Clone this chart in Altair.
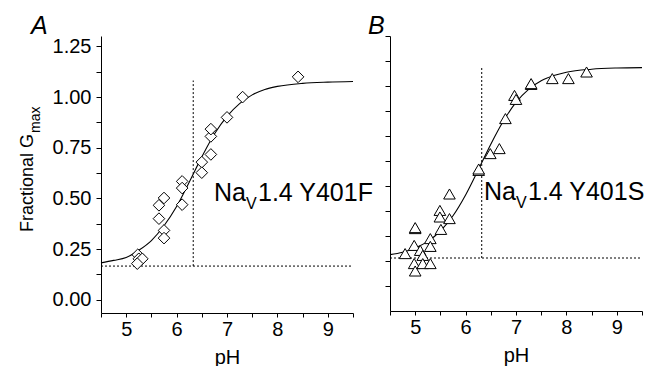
import altair as alt
import pandas as pd

FONT = "Liberation Sans"

# ---------------- data ----------------
ph_domain = [4.5, 9.5]
x_ticks = [4.5, 5.0, 5.5, 6.0, 6.5, 7.0, 7.5, 8.0, 8.5, 9.0, 9.5]
y_ticks = [0, 0.125, 0.25, 0.375, 0.5, 0.625, 0.75, 0.875, 1.0, 1.125, 1.25]

# Panel A: NaV1.4 Y401F (diamonds)
a_ph = [5.23, 5.25, 5.32, 5.22, 5.75, 5.75, 5.65, 5.65, 5.75, 6.11, 6.11, 6.11,
        6.50, 6.50, 6.68, 6.68, 6.68, 7.00, 7.31, 8.41]
a_g = [0.222, 0.202, 0.202, 0.178, 0.342, 0.304, 0.400, 0.466, 0.502, 0.584, 0.551, 0.469,
       0.679, 0.627, 0.717, 0.806, 0.842, 0.900, 1.000, 1.100]
a_fit_ph = [4.5, 4.75, 5.0, 5.25, 5.5, 5.75, 6.0, 6.25, 6.5, 6.75, 7.0, 7.25, 7.5, 7.75,
            8.0, 8.5, 9.0, 9.5]
a_fit_g = [0.182, 0.194, 0.208, 0.244, 0.292, 0.365, 0.460, 0.580, 0.705, 0.818, 0.905,
           0.968, 1.011, 1.038, 1.053, 1.068, 1.074, 1.077]
a_base, a_top, a_ph50 = 0.166, 1.082, 6.33

# Panel B: NaV1.4 Y401S (triangles)
b_ph = [4.80, 5.00, 5.00, 4.98, 4.98, 5.00, 5.10, 5.15, 5.15, 5.30, 5.30, 5.30, 5.49, 5.49,
        5.51, 5.68, 5.68, 6.26, 6.26, 6.49, 6.67, 6.79, 6.97, 7.00, 7.30, 7.30, 7.72, 8.04, 8.40]
b_g = [0.162, 0.287, 0.292, 0.203, 0.112, 0.075, 0.178, 0.153, 0.112, 0.237, 0.198, 0.112,
       0.378, 0.345, 0.283, 0.460, 0.337, 0.578, 0.585, 0.662, 0.687, 0.837, 0.953, 0.933,
       1.008, 1.012, 1.037, 1.037, 1.070]
b_fit_ph = a_fit_ph
b_fit_g = [0.157, 0.169, 0.190, 0.223, 0.275, 0.351, 0.455, 0.580, 0.709, 0.825, 0.918,
           0.983, 1.026, 1.052, 1.069, 1.084, 1.090, 1.092]
b_base, b_top, b_ph50 = 0.140, 1.0915, 6.32


def panel(ph, g, fit_ph, fit_g, base, top, ph50, shape, ydom, height,
          show_ylabels, letter, letter_x, label, label_x, label_y):
    W = 252
    xs = alt.Scale(domain=ph_domain, nice=False, zero=False)
    ys = alt.Scale(domain=ydom, nice=False, zero=False)
    xaxis = alt.Axis(values=x_ticks,
                     labelExpr="datum.value % 1 === 0 ? format(datum.value, 'd') : ''",
                     tickSize=4, labelPadding=2, grid=False, title="pH",
                     titlePadding=8, labelOverlap=False, labelFlush=False)
    if show_ylabels:
        yaxis = alt.Axis(values=y_ticks,
                         labelExpr="datum.value % 0.25 === 0 ? format(datum.value, '.2f') : ''",
                         tickSize=5, labelPadding=5, grid=False, title=None,
                         labelOverlap=False, labelFlush=False)
    else:
        yaxis = alt.Axis(values=y_ticks, labels=False, tickSize=5, grid=False, title=None)

    X = lambda f: alt.X(f, scale=xs, axis=xaxis)
    Y = lambda f: alt.Y(f, scale=ys, axis=yaxis)

    fit = alt.Chart(pd.DataFrame({"ph": fit_ph, "g": fit_g})).mark_line(
        color="black", strokeWidth=1.1, interpolate="monotone"
    ).encode(x=X("ph:Q"), y=Y("g:Q"))

    pts = alt.Chart(pd.DataFrame({"ph": ph, "g": g})).mark_point(
        shape=shape, size=135, filled=True, fill="white", stroke="black",
        strokeWidth=1, opacity=1
    ).encode(x=X("ph:Q"), y=Y("g:Q"))

    hrule = alt.Chart(pd.DataFrame({"g": [base], "ph": [ph_domain[0]], "ph2": [ph_domain[1]]})).mark_rule(
        color="black", strokeWidth=1, strokeDash=[2, 2]
    ).encode(x=X("ph:Q"), x2="ph2:Q", y=Y("g:Q"))

    vrule = alt.Chart(pd.DataFrame({"ph": [ph50], "g": [base], "g2": [top]})).mark_rule(
        color="black", strokeWidth=1, strokeDash=[2, 2]
    ).encode(x=X("ph:Q"), y=Y("g:Q"), y2="g2:Q")

    one = pd.DataFrame({"k": [0]})
    letter_mark = alt.Chart(one).mark_text(
        text=letter, font=FONT, fontSize=25, fontStyle="italic", align="left",
        baseline="alphabetic", color="black"
    ).encode(x=alt.value(letter_x), y=alt.value(-2))

    t1 = alt.Chart(one).mark_text(text="Na", font=FONT, fontSize=25, align="left",
                                  baseline="alphabetic", color="black"
                                  ).encode(x=alt.value(label_x), y=alt.value(label_y))
    t2 = alt.Chart(one).mark_text(text="V", font=FONT, fontSize=16, align="left",
                                  baseline="alphabetic", color="black"
                                  ).encode(x=alt.value(label_x + 32), y=alt.value(label_y + 8))
    t3 = alt.Chart(one).mark_text(text=label, font=FONT, fontSize=25, align="left",
                                  baseline="alphabetic", color="black"
                                  ).encode(x=alt.value(label_x + 44), y=alt.value(label_y))

    layers = [fit, hrule, vrule, pts, letter_mark, t1, t2, t3]
    if show_ylabels:
        yt1 = alt.Chart(one).mark_text(text="Fractional G", font=FONT, fontSize=18, angle=270,
                                       align="right", baseline="alphabetic", color="black"
                                       ).encode(x=alt.value(-68), y=alt.value(98))
        yt2 = alt.Chart(one).mark_text(text="max", font=FONT, fontSize=14, angle=270,
                                       align="left", baseline="alphabetic", color="black"
                                       ).encode(x=alt.value(-61), y=alt.value(97))
        layers += [yt1, yt2]
    return alt.layer(*layers).properties(width=W, height=height)


pa = panel(a_ph, a_g, a_fit_ph, a_fit_g, a_base, a_top, a_ph50, "diamond",
           [-0.0656, 1.3016], 277, True, "A", -70, "1.4 Y401F", 113, 165)
pb = panel(b_ph, b_g, b_fit_ph, b_fit_g, b_base, b_top, b_ph50, "triangle-up",
           [-0.125, 1.25], 275, False, "B", -22, "1.4 Y401S", 94, 164)

chart = alt.hconcat(pa, pb, spacing=37, bounds="flush").properties(
    padding={"left": 11, "top": 6, "right": 0, "bottom": 6},
    background="white",
).configure_view(stroke=None).configure_axis(
    domainColor="black", tickColor="black", labelColor="black", titleColor="black",
    labelFont=FONT, titleFont=FONT, labelFontSize=20, titleFontSize=20,
    titleFontWeight="normal", domainWidth=1, tickWidth=1, labelOverlap=False
)

chart.save("out.html", embed_options={"renderer": "svg", "actions": False})
